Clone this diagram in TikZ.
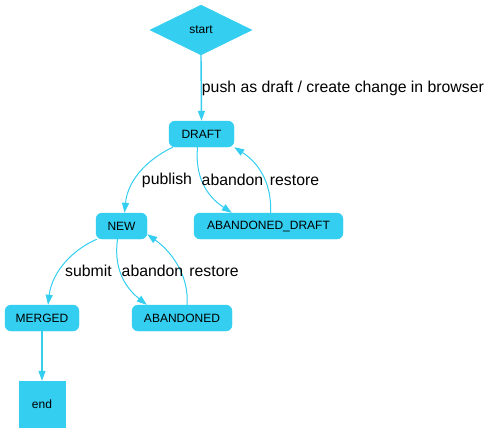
\documentclass[tikz,border=0pt]{standalone}
\usepackage{fontspec}
\setmainfont{Liberation Sans}
\usetikzlibrary{shapes.geometric,arrows.meta}
\definecolor{cy}{RGB}{51,206,240}
\tikzset{
  state/.style={draw=cy, fill=cy, rounded corners=6pt, inner sep=0pt, minimum height=26pt, font=\fontsize{12}{14}\selectfont},
  edge/.style={draw=cy, line width=1pt, -{Triangle[length=10pt,width=7pt]}},
  sedge/.style={edge, line width=1.4pt},
  lbl/.style={inner sep=0pt, font=\fontsize{15.8}{18}\selectfont}
}
\begin{document}
\begin{tikzpicture}[x=1pt,y=-1pt]
\useasboundingbox (0,0) rectangle (494,432);
\node[diamond, draw=cy, fill=cy, inner sep=0pt, minimum width=102pt, minimum height=50pt, font=\fontsize{12}{14}\selectfont] (start) at (201,30) {start};
\node[state, minimum width=65pt] (draft) at (201.5,134) {DRAFT};
\node[state, minimum width=149pt] (abd) at (268.5,226) {ABANDONED\_DRAFT};
\node[state, minimum width=51pt] (new) at (121.5,226) {NEW};
\node[state, minimum width=74pt] (merged) at (42,318) {MERGED};
\node[state, minimum width=100pt] (aband) at (182,318) {ABANDONED};
\node[draw=cy, fill=cy, minimum width=46pt, minimum height=46pt, inner sep=0pt, font=\fontsize{12}{14}\selectfont] (end) at (42,404) {end};

\draw[sedge] (start.south) -- node[lbl, anchor=west, name=lpush] {push as draft / create change in browser} (draft.north);
\draw[sedge] (merged.south) -- (end.north);

\draw[edge] ([xshift=4pt]draft.south west) .. controls (150,158) and (128,178) .. ([xshift=3pt]new.north);
\draw[edge] ([xshift=-4pt]draft.south) .. controls (195,175) and (205,195) .. ([xshift=38pt]abd.north west);
\draw[edge] ([xshift=2pt]abd.north) .. controls (272,188) and (262,165) .. (draft.south east);

\draw[edge] ([xshift=1pt]new.south west) .. controls (72,250) and (52,272) .. ([xshift=6pt]merged.north);
\draw[edge] ([xshift=-4pt]new.south) .. controls (114,265) and (122,285) .. ([xshift=15pt]aband.north west);
\draw[edge] ([xshift=5pt]aband.north) .. controls (189,280) and (176,255) .. ([yshift=5pt]new.south east);

\node[lbl] (lpublish) at (167,180) {publish};
\node[lbl] (labd1) at (232.5,180) {abandon};
\node[lbl] (lres1) at (294.5,180) {restore};
\node[lbl] (lsubmit) at (88.5,271) {submit};
\node[lbl] (labd2) at (152.5,271) {abandon};
\node[lbl] (lres2) at (214,271) {restore};
\end{tikzpicture}
\end{document}
